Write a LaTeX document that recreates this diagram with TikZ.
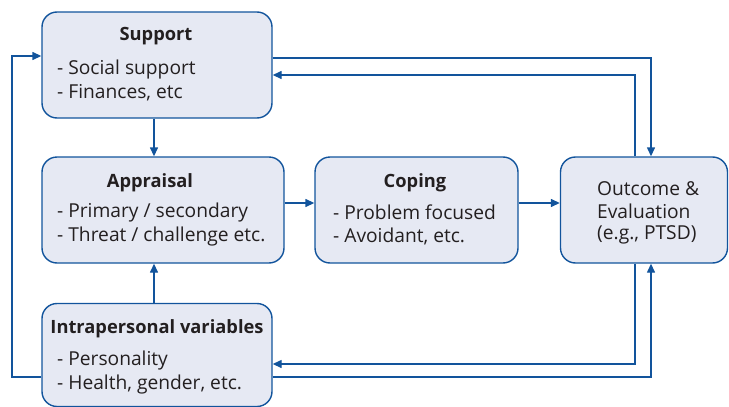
\documentclass[tikz,border=0pt]{standalone}
\usepackage{fontspec}
\setmainfont{Open Sans}
\usetikzlibrary{arrows.meta,calc}
\definecolor{lineblue}{RGB}{18,84,156}
\definecolor{boxfill}{RGB}{230,233,243}
\definecolor{txt}{RGB}{35,31,32}
\begin{document}
\begin{tikzpicture}[x=1pt,y=-1pt,
  box/.style={draw=lineblue,fill=boxfill,line width=1.4pt,rounded corners=15pt,inner sep=0pt},
  ttl/.style={font=\fontsize{18.3}{20}\selectfont\bfseries,text=txt,inner sep=0pt,yshift=-1.5pt},
  bodytxt/.style={font=\fontsize{19.2}{21}\selectfont,text=txt,inner sep=0pt,anchor=west,yshift=-1.5pt},
  arr/.style={draw=lineblue,line width=1.4pt,-{Triangle[length=9pt,width=8pt]}},
  ln/.style={draw=lineblue,line width=1.4pt}]
\useasboundingbox (0,0) rectangle (729,407);
% boxes
\node[box,minimum width=230pt,minimum height=106pt] (sup) at (157,65) {};
\node[box,minimum width=242pt,minimum height=106pt] (app) at (163,210) {};
\node[box,minimum width=203pt,minimum height=106pt] (cop) at (416.5,210) {};
\node[box,minimum width=167pt,minimum height=106pt] (out) at (644,210) {};
\node[box,minimum width=230pt,minimum height=103pt] (ipv) at (157,355) {};
% texts
\node[ttl] (supT) at (156,35) {Support};
\node[bodytxt] (supA) at (57,68) {- Social support};
\node[bodytxt] (supB) at (57,91) {- Finances, etc};
\node[ttl] (appT) at (150,181) {Appraisal};
\node[bodytxt] (appA) at (57,211) {- Primary / secondary};
\node[bodytxt] (appB) at (57,235) {- Threat / challenge etc.};
\node[ttl] (copT) at (415,181) {Coping};
\node[bodytxt] (copA) at (333,211) {- Problem focused};
\node[bodytxt] (copB) at (333,235) {- Avoidant, etc.};
\node[bodytxt] (outA) at (597,187) {Outcome \&};
\node[bodytxt] (outB) at (597,210) {Evaluation};
\node[bodytxt] (outC) at (597,233) {(e.g., PTSD)};
\node[ttl] (ipvT) at (157,327) {Intrapersonal variables};
\node[bodytxt] (ipvA) at (57,359) {- Personality};
\node[bodytxt] (ipvB) at (57,383) {- Health, gender, etc.};
% helper coordinates
\coordinate (cx) at (154,0);
\coordinate (ra) at (651,0);
\coordinate (rb) at (635,0);
\coordinate (lx) at (12,0);
\coordinate (y1) at (0,58);
\coordinate (y2) at (0,75);
\coordinate (y3) at (0,364);
\coordinate (y4) at (0,377);
\coordinate (y5) at (0,56);
\coordinate (ym) at (0,203);
% connectors
\draw[arr] (sup.south -| cx) -- (app.north -| cx);
\draw[arr] (ipv.north -| cx) -- (app.south -| cx);
\draw[arr] (app.east |- ym) -- (cop.west |- ym);
\draw[arr] (cop.east |- ym) -- (out.west |- ym);
\draw[arr] (sup.east |- y1) -- (ra |- y1) -- (out.north -| ra);
\draw[arr] (out.north -| rb) -- (rb |- y2) -- (sup.east |- y2);
\draw[arr] (out.south -| rb) -- (rb |- y3) -- (ipv.east |- y3);
\draw[arr] (ipv.east |- y4) -- (ra |- y4) -- (out.south -| ra);
\draw[arr] (ipv.west |- y4) -- (lx |- y4) -- (lx |- y5) -- (sup.west |- y5);
\end{tikzpicture}
\end{document}
